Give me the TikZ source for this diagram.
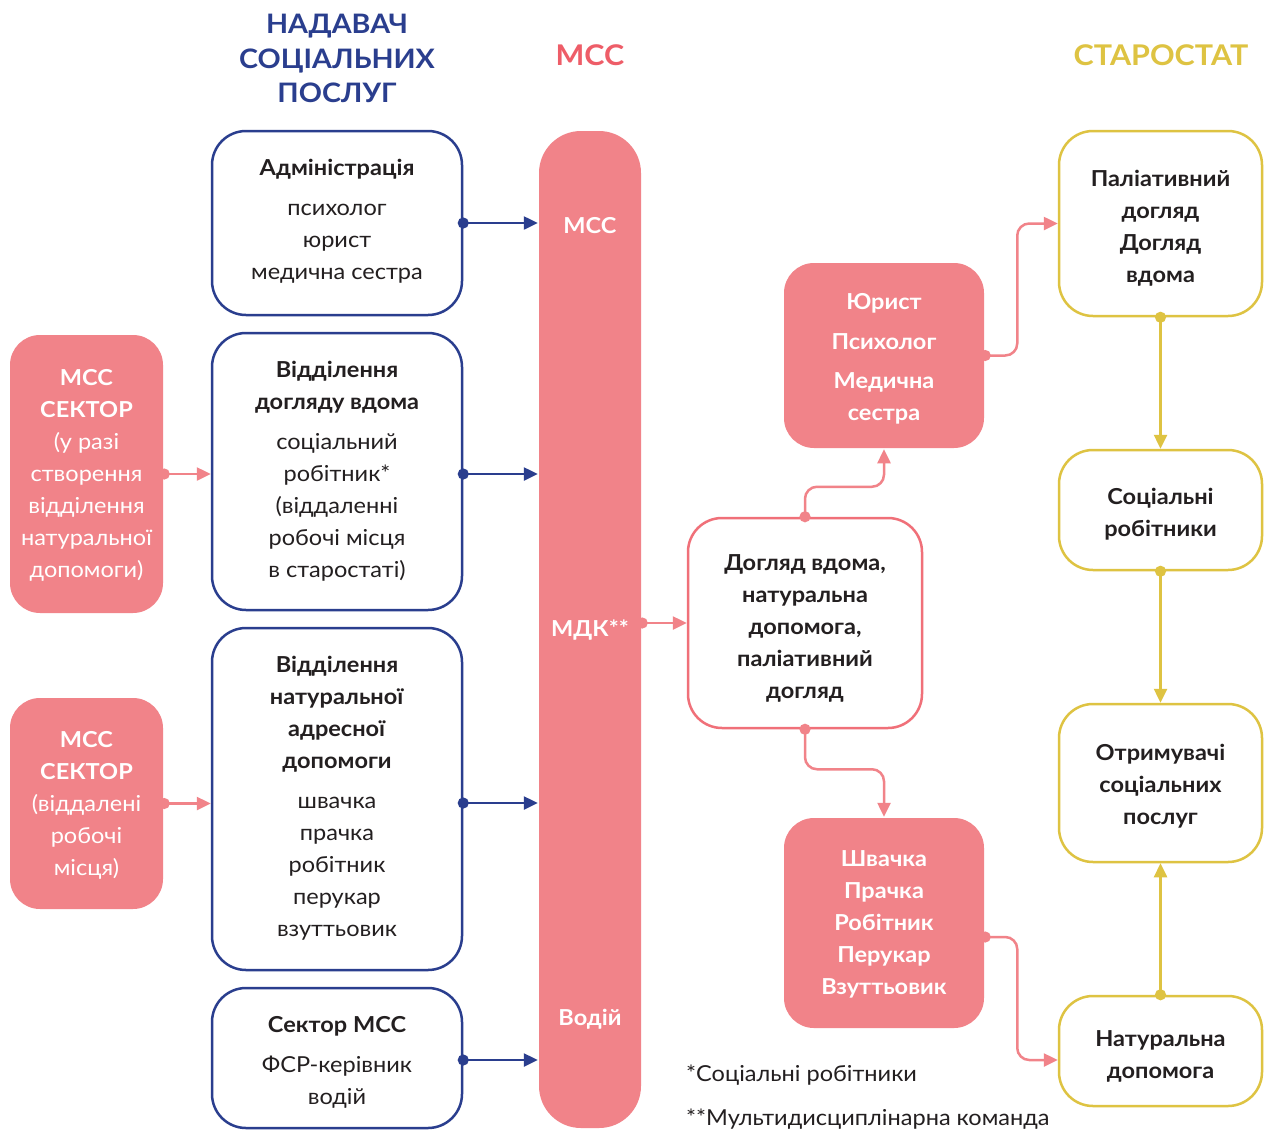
\documentclass[tikz,border=0pt]{standalone}
\usepackage{fontspec}
\setmainfont{Lato}[FakeStretch=1.07]
\usetikzlibrary{arrows.meta}
\definecolor{cblue}{HTML}{2A3E8E}
\definecolor{cpink}{HTML}{F18389}
\definecolor{cpinkl}{HTML}{F07079}
\definecolor{cpinkt}{HTML}{EE5D68}
\definecolor{cyel}{HTML}{DEC342}
\definecolor{cdark}{HTML}{231F20}
\tikzset{
  box/.style={rectangle, inner sep=0pt, line width=2.5pt, rounded corners=34pt},
  bluebox/.style={box, draw=cblue, fill=white},
  pinkbox/.style={box, fill=cpink, rounded corners=30pt},
  outbox/.style={box, draw=cpinkl, fill=white},
  yelbox/.style={box, draw=cyel, fill=white},
  txt/.style={align=center, inner sep=0pt, yshift=-2.5pt, text=cdark, font=\fontsize{22}{32}\selectfont},
  wtxt/.style={txt, text=white, font=\fontsize{22}{32}\selectfont\bfseries},
  btxt/.style={txt, font=\fontsize{22}{32}\selectfont\bfseries},
  title/.style={align=center, inner sep=0pt, font=\fontsize{28.5}{34.5}\selectfont\bfseries},
  conn/.style={line width=2.5pt, {Circle[length=11pt]}-{Triangle[length=14pt,width=13pt]}, shorten <=-5.5pt},
  bconn/.style={conn, draw=cblue, color=cblue},
  pconn/.style={conn, draw=cpink, color=cpink, rounded corners=12pt},
  yconn/.style={conn, draw=cyel, color=cyel},
}
\begin{document}
\begin{tikzpicture}[x=1pt,y=-1pt]
\path[use as bounding box, fill=white] (0,0) rectangle (1264,1130);

% titles
\node[title, text=cblue, font=\fontsize{26.8}{34.5}\selectfont\bfseries] (t1) at (337,58.5) {НАДАВАЧ\\СОЦІАЛЬНИХ\\ПОСЛУГ};
\node[title, text=cpinkt] (t2) at (590,55) {МСС};
\node[title, text=cyel] (t3) at (1161,55) {СТАРОСТАТ};

% left pink boxes
\node[pinkbox, minimum width=153pt, minimum height=278pt] (pa) at (86.5,474) {};
\node[txt, text=white] (paT) at (86.5,473) {\textbf{МСС}\\\textbf{СЕКТОР}\\(у разі\\створення\\відділення\\натуральної\\допомоги)};
\node[pinkbox, minimum width=153pt, minimum height=211pt] (pb) at (86.5,803.5) {};
\node[txt, text=white] (pbT) at (86.5,802.5) {\textbf{МСС}\\\textbf{СЕКТОР}\\(віддалені\\робочі\\місця)};

% blue boxes
\node[bluebox, minimum width=250pt, minimum height=184pt] (adm) at (337,223) {};
\node[txt] (admT) at (337,219) {\textbf{Адміністрація}\\[8pt]психолог\\юрист\\медична сестра};
\node[bluebox, minimum width=250pt, minimum height=277pt] (hc) at (337,471.5) {};
\node[txt] (hcT) at (337,469) {\textbf{Відділення}\\\textbf{догляду вдома}\\[8pt]соціальний\\робітник*\\(віддаленні\\робочі місця\\в старостаті)};
\node[bluebox, minimum width=250pt, minimum height=342pt] (nd) at (337,799) {};
\node[txt] (ndT) at (337,796) {\textbf{Відділення}\\\textbf{натуральної}\\\textbf{адресної}\\\textbf{допомоги}\\[8pt]швачка\\прачка\\робітник\\перукар\\взуттьовик};
\node[bluebox, minimum width=250pt, minimum height=140pt] (sc) at (337,1058) {};
\node[txt] (scT) at (337,1060) {\textbf{Сектор МСС}\\[8pt]ФСР-керівник\\водій};

% bar
\node[box, fill=cpink, rounded corners=42pt, minimum width=102pt, minimum height=997pt] (bar) at (590,629.5) {};
\node[wtxt] (barA) at (590,223) {МСС};
\node[wtxt] (barB) at (590,628) {МДК**};
\node[wtxt] (barC) at (590,1017) {Водій};

% middle boxes
\node[outbox, minimum width=234pt, minimum height=210pt] (out) at (805,623) {};
\node[btxt] (outT) at (805,626) {Догляд вдома,\\натуральна\\допомога,\\паліативний\\догляд};
\node[pinkbox, minimum width=200pt, minimum height=185pt] (jur) at (884,355.5) {};
\node[wtxt] (jurT) at (884,356.5) {Юрист\\[8pt]Психолог\\[7pt]Медична\\сестра};
\node[pinkbox, minimum width=200pt, minimum height=210pt] (sw) at (884,923) {};
\node[wtxt] (swT) at (884,922) {Швачка\\Прачка\\Робітник\\Перукар\\Взуттьовик};

% right yellow boxes
\node[yelbox, minimum width=203pt, minimum height=185pt] (pal) at (1160.5,223.5) {};
\node[btxt] (palT) at (1160.5,226) {Паліативний\\догляд\\Догляд\\вдома};
\node[yelbox, minimum width=203pt, minimum height=120pt] (soc) at (1160.5,510) {};
\node[btxt] (socT) at (1160.5,512) {Соціальні\\робітники};
\node[yelbox, minimum width=203pt, minimum height=158pt] (rec) at (1160.5,783) {};
\node[btxt] (recT) at (1160.5,784) {Отримувачі\\соціальних\\послуг};
\node[yelbox, minimum width=203pt, minimum height=110pt] (nat) at (1160.5,1051) {};
\node[btxt] (natT) at (1160.5,1054) {Натуральна\\допомога};

% footnotes
\node[txt, anchor=west] (f1) at (686,1073) {*Соціальні робітники};
\node[txt, anchor=west] (f2) at (686,1117) {**Мультидисциплінарна команда};

% connectors
\draw[pconn] (pa.east) -- (pa.east -| hc.west);
\draw[pconn] (pb.east) -- (pb.east -| nd.west);
\draw[bconn] (adm.east) -- (adm.east -| bar.west);
\draw[bconn] ([yshift=-2.5pt]hc.east) -- ([yshift=-2.5pt]hc.east -| bar.west);
\draw[bconn] ([yshift=-4pt]nd.east) -- ([yshift=-4pt]nd.east -| bar.west);
\draw[bconn] ([yshift=-2pt]sc.east) -- ([yshift=-2pt]sc.east -| bar.west);
\draw[pconn] (out.west -| bar.east) -- (out.west);
\draw[pconn] (out.north) -- ++(0,-30) -| (jur.south);
\draw[pconn] (out.south) -- ++(0,40) -| (sw.north);
\draw[pconn] (jur.east) -- ++(32,0) |- (pal.west);
\draw[pconn] ([yshift=-14pt]sw.east) -- ++(32,0) |- ([yshift=-9pt]nat.west);
\draw[yconn] (pal.south) -- (soc.north);
\draw[yconn] (soc.south) -- (rec.north);
\draw[yconn] (nat.north) -- (rec.south);
\end{tikzpicture}
\end{document}
